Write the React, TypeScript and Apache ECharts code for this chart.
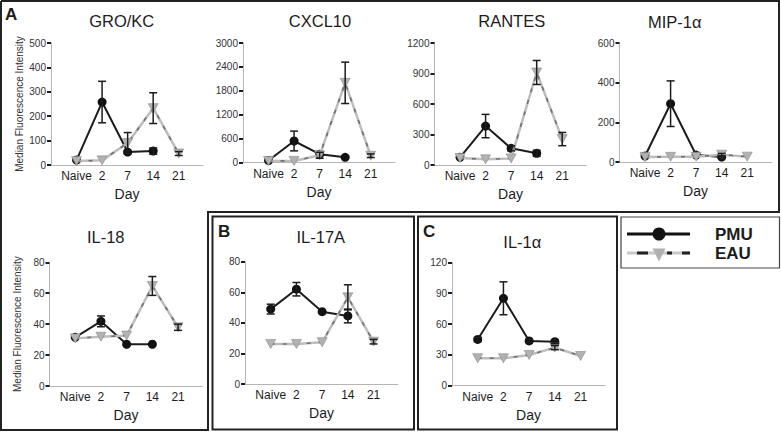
import React, { useEffect, useRef } from 'react';
import * as echarts from 'echarts';

// ---------- DATA ----------
const CATEGORIES = ['Naive', '2', '7', '14', '21'];
const Y_AXIS_NAME = 'Median Fluorescence Intensity';
const X_AXIS_NAME = 'Day';
const LEGEND_NAMES = ['PMU', 'EAU'];

const groTitle = 'GRO/KC';
const groTicks = [0, 100, 200, 300, 400, 500];
const groPmu = [20, 258, 53, 57, null];
const groPmuErr = [0, 85, 6, 13, 0];
const groEau = [16, 19, 90, 233, 47];
const groEauErr = [0, 0, 43, 63, 8];

const cxclTitle = 'CXCL10';
const cxclTicks = [0, 600, 1200, 1800, 2400, 3000];
const cxclPmu = [50, 540, 210, 130, null];
const cxclPmuErr = [0, 248, 0, 0, 0];
const cxclEau = [40, 40, 180, 2000, 170];
const cxclEauErr = [0, 0, 75, 520, 45];

const rantesTitle = 'RANTES';
const rantesTicks = [0, 300, 600, 900, 1200];
const rantesPmu = [75, 383, 164, 115, null];
const rantesPmuErr = [0, 115, 25, 30, 0];
const rantesEau = [69, 56, 65, 910, 255];
const rantesEauErr = [0, 0, 0, 118, 65];

const mipTitle = 'MIP-1α';
const mipTicks = [0, 200, 400, 600];
const mipPmu = [30, 294, 35, 25, null];
const mipPmuErr = [0, 115, 0, 5, 0];
const mipEau = [25, 26, 27, 37, 27];
const mipEauErr = [0, 0, 0, 6, 0];

const il18Title = 'IL-18';
const il18Ticks = [0, 20, 40, 60, 80];
const il18Pmu = [31.5, 41.8, 27, 27, null];
const il18PmuErr = [0, 3.5, 0, 0, 0];
const il18Eau = [30.8, 31.9, 32.6, 64.7, 38];
const il18EauErr = [0, 0, 0, 6.1, 2];

const il17Title = 'IL-17A';
const il17Ticks = [0, 20, 40, 60, 80];
const il17Pmu = [49, 62, 47.3, 44.5, null];
const il17PmuErr = [3.2, 4.4, 0, 4.5, 0];
const il17Eau = [26.2, 26.2, 27.3, 56.7, 27.7];
const il17EauErr = [0, 0, 0, 8.2, 1.5];

const il1Title = 'IL-1α';
const il1Ticks = [0, 30, 60, 90, 120];
const il1Pmu = [45, 85, 43.5, 42.8, null];
const il1PmuErr = [2, 16, 1.5, 2, 0];
const il1Eau = [26.7, 26.7, 29.9, 37, 28.9];
const il1EauErr = [0, 0, 0, 2, 0];

const PANELS = [
  { title: groTitle, ticks: groTicks, pmu: groPmu, pmuErr: groPmuErr, eau: groEau, eauErr: groEauErr },
  { title: cxclTitle, ticks: cxclTicks, pmu: cxclPmu, pmuErr: cxclPmuErr, eau: cxclEau, eauErr: cxclEauErr },
  { title: rantesTitle, ticks: rantesTicks, pmu: rantesPmu, pmuErr: rantesPmuErr, eau: rantesEau, eauErr: rantesEauErr },
  { title: mipTitle, ticks: mipTicks, pmu: mipPmu, pmuErr: mipPmuErr, eau: mipEau, eauErr: mipEauErr },
  { title: il18Title, ticks: il18Ticks, pmu: il18Pmu, pmuErr: il18PmuErr, eau: il18Eau, eauErr: il18EauErr },
  { title: il17Title, ticks: il17Ticks, pmu: il17Pmu, pmuErr: il17PmuErr, eau: il17Eau, eauErr: il17EauErr },
  { title: il1Title, ticks: il1Ticks, pmu: il1Pmu, pmuErr: il1PmuErr, eau: il1Eau, eauErr: il1EauErr },
];

// ---------- LAYOUT ----------
const LAYOUT = [
  { left: 51, top: 43, width: 152, height: 122, tx: 121.7, ty: 20.7, yName: true },
  { left: 243, top: 43, width: 152, height: 119.5, tx: 320, ty: 20.7, yName: false },
  { left: 434.5, top: 43, width: 152, height: 122, tx: 511.7, ty: 20.5, yName: false },
  { left: 619.5, top: 43, width: 152, height: 119, tx: 674.7, ty: 21.5, yName: false },
  { left: 49.5, top: 262.3, width: 153, height: 123.7, tx: 105.7, ty: 236.7, yName: true },
  { left: 245, top: 261.7, width: 153, height: 122.3, tx: 320.8, ty: 236.7, yName: false },
  { left: 452, top: 262.3, width: 153, height: 123.4, tx: 522.3, ty: 242, yName: false },
];

const FONT = "'Liberation Sans', Arial, sans-serif";
const DARK = '#1c1c1c';
const AXIS_GRAY = '#b5b5b5';
const EAU_GRAY = '#bdbdbd';

function errRender(params: any, api: any) {
  const x = api.value(0);
  const y = api.value(1);
  const e = api.value(2);
  const p1 = api.coord([x, y + e]);
  const p2 = api.coord([x, y - e]);
  const w = 4;
  const style = { stroke: DARK, lineWidth: 1.5 };
  return {
    type: 'group',
    children: [
      { type: 'line', shape: { x1: p1[0], y1: p1[1], x2: p2[0], y2: p2[1] }, style },
      { type: 'line', shape: { x1: p1[0] - w, y1: p1[1], x2: p1[0] + w, y2: p1[1] }, style },
      { type: 'line', shape: { x1: p2[0] - w, y1: p2[1], x2: p2[0] + w, y2: p2[1] }, style },
    ],
  };
}

function buildOption() {
  const grid: any[] = [];
  const xAxis: any[] = [];
  const yAxis: any[] = [];
  const series: any[] = [];
  const graphic: any[] = [];

  PANELS.forEach((p, i) => {
    const L = LAYOUT[i];
    grid.push({ left: L.left, top: L.top, width: L.width, height: L.height, containLabel: false, outerBoundsMode: 'none' });
    xAxis.push({
      type: 'value',
      gridIndex: i,
      min: -1,
      max: 4.95,
      name: X_AXIS_NAME,
      nameLocation: 'middle',
      nameGap: 22,
      nameTextStyle: { fontFamily: FONT, fontSize: 14, color: DARK, verticalAlign: 'top' },
      axisLine: { show: true, onZero: false, lineStyle: { color: AXIS_GRAY, width: 1 } },
      axisTick: { show: false },
      splitLine: { show: false },
      axisLabel: {
        customValues: [0, 1, 2, 3, 4],
        formatter: (v: number) => CATEGORIES[Math.round(v)] ?? '',
        fontFamily: FONT,
        fontSize: 12,
        color: DARK,
        margin: 5,
      },
    });
    const step = p.ticks[1] - p.ticks[0];
    yAxis.push({
      type: 'value',
      gridIndex: i,
      min: p.ticks[0],
      max: p.ticks[p.ticks.length - 1],
      interval: step,
      name: L.yName ? Y_AXIS_NAME : '',
      nameLocation: 'middle',
      nameGap: 27,
      nameTextStyle: { fontFamily: FONT, fontSize: 10, color: '#333' },
      axisLine: { show: true, onZero: false, lineStyle: { color: AXIS_GRAY, width: 1 } },
      axisTick: { show: true, length: 4, lineStyle: { color: DARK, width: 2 } },
      splitLine: { show: false },
      axisLabel: {
        fontFamily: FONT,
        fontSize: 10,
        color: '#333',
        margin: 5,
        formatter: (v: number) => String(v),
      },
    });

    const pmuData = p.pmu.map((v, k) => (v == null ? null : [k, v])).filter((d) => d);
    const eauData = p.eau.map((v, k) => (v == null ? null : [k, v])).filter((d) => d);

    series.push({
      type: 'line',
      name: LEGEND_NAMES[0],
      xAxisIndex: i,
      yAxisIndex: i,
      data: pmuData,
      z: 2,
      symbol: 'circle',
      symbolSize: 9,
      itemStyle: { color: '#111' },
      lineStyle: { color: DARK, width: 2 },
    });
    series.push({
      type: 'line',
      name: LEGEND_NAMES[1],
      xAxisIndex: i,
      yAxisIndex: i,
      data: eauData,
      z: 3,
      symbol: 'triangle',
      symbolRotate: 180,
      symbolSize: [10, 9],
      itemStyle: { color: '#b2b2b2', borderColor: '#8a8a8a', borderWidth: 0.6 },
      lineStyle: { color: EAU_GRAY, width: 2.5 },
    });
    series.push({
      type: 'line',
      name: LEGEND_NAMES[1] + ' dash',
      xAxisIndex: i,
      yAxisIndex: i,
      data: eauData,
      z: 3,
      symbol: 'none',
      lineStyle: { color: '#555', width: 1.6, type: [4, 8], opacity: 0.75 },
    });
    const errData: any[] = [];
    p.pmu.forEach((v, k) => {
      if (v != null && p.pmuErr[k] > 0) errData.push([k, v, p.pmuErr[k]]);
    });
    p.eau.forEach((v, k) => {
      if (v != null && p.eauErr[k] > 0) errData.push([k, v, p.eauErr[k]]);
    });
    series.push({
      type: 'custom',
      xAxisIndex: i,
      yAxisIndex: i,
      z: 4,
      data: errData,
      encode: { x: 0, y: 1 },
      renderItem: errRender,
    });

    graphic.push({
      type: 'text',
      x: L.tx,
      y: L.ty,
      style: { text: p.title, fontFamily: FONT, fontSize: 16.5, fill: DARK, align: 'center', verticalAlign: 'middle' },
    });
  });

  // Panel letters
  const letters = [
    { t: 'A', x: 5, y: 14.5 },
    { t: 'B', x: 218, y: 231.5 },
    { t: 'C', x: 423, y: 231.5 },
  ];
  letters.forEach((l) =>
    graphic.push({
      type: 'text',
      x: l.x,
      y: l.y,
      style: { text: l.t, fontFamily: FONT, fontSize: 17, fontWeight: 'bold', fill: DARK, align: 'left', verticalAlign: 'middle' },
    })
  );

  // Boxes
  graphic.push({
    type: 'polyline',
    shape: { points: [[1, 1], [779, 1], [779, 212], [208, 212], [208, 430], [1, 430], [1, 1]] },
    style: { stroke: '#222', lineWidth: 2, fill: null },
  });
  graphic.push({ type: 'rect', shape: { x: 212.5, y: 216.5, width: 201.5, height: 213 }, style: { stroke: '#222', lineWidth: 2, fill: null } });
  graphic.push({ type: 'rect', shape: { x: 418, y: 216.5, width: 199, height: 213 }, style: { stroke: '#222', lineWidth: 2, fill: null } });
  graphic.push({ type: 'rect', shape: { x: 621, y: 217, width: 158.5, height: 51 }, style: { stroke: '#444', lineWidth: 1.2, fill: null } });

  // Legend
  graphic.push({ type: 'line', shape: { x1: 627, y1: 234, x2: 690, y2: 234 }, style: { stroke: '#111', lineWidth: 3 } });
  graphic.push({ type: 'circle', shape: { cx: 659, cy: 234, r: 6.5 }, style: { fill: '#111' } });
  graphic.push({ type: 'line', shape: { x1: 627, y1: 253, x2: 690, y2: 253 }, style: { stroke: '#c8c8c8', lineWidth: 3 } });
  [[637, 648], [667, 672], [682, 690]].forEach(([a, b]) =>
    graphic.push({ type: 'line', shape: { x1: a, y1: 253, x2: b, y2: 253 }, style: { stroke: '#222', lineWidth: 3 } })
  );
  graphic.push({ type: 'polygon', shape: { points: [[652.5, 248.5], [665.5, 248.5], [659, 261.5]] }, style: { fill: '#b0b0b0' } });
  graphic.push({
    type: 'text', x: 715, y: 234,
    style: { text: LEGEND_NAMES[0], fontFamily: FONT, fontSize: 17, fontWeight: 'bold', fill: DARK, verticalAlign: 'middle' },
  });
  graphic.push({
    type: 'text', x: 715, y: 253.5,
    style: { text: LEGEND_NAMES[1], fontFamily: FONT, fontSize: 17, fontWeight: 'bold', fill: DARK, verticalAlign: 'middle' },
  });

  return {
    animation: false,
    backgroundColor: '#ffffff',
    textStyle: { fontFamily: FONT },
    grid,
    xAxis,
    yAxis,
    series,
    graphic,
  };
}

export default function App() {
  const ref = useRef<HTMLDivElement>(null);
  useEffect(() => {
    if (!ref.current) return;
    const chart = echarts.init(ref.current, null, { renderer: 'svg' });
    chart.setOption(buildOption() as any);
    return () => chart.dispose();
  }, []);
  return (
    <div
      ref={ref}
      style={{ position: 'fixed', left: 0, top: 0, width: 781, height: 432, background: '#fff' }}
    />
  );
}
